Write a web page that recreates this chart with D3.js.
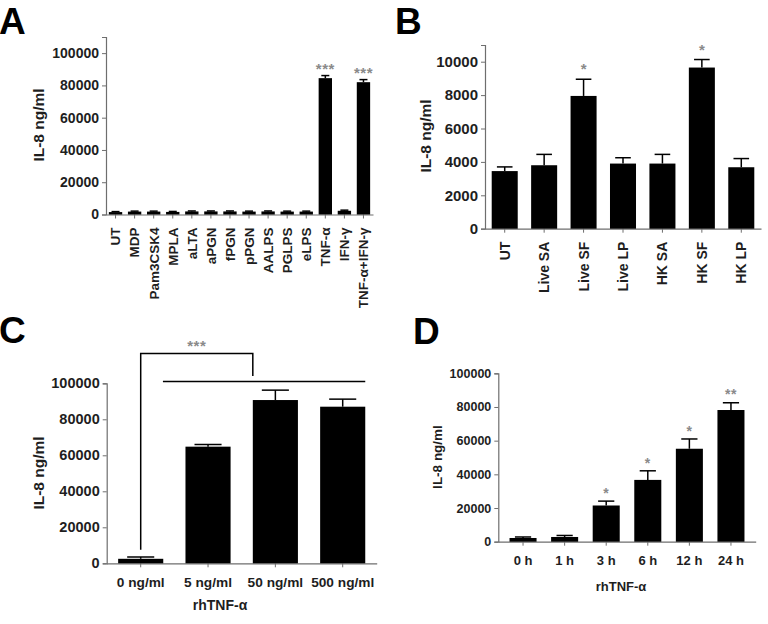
<!DOCTYPE html>
<html><head><meta charset="utf-8">
<script src="https://cdn.jsdelivr.net/npm/d3@7"></script>
<style>body{margin:0;background:#fff}svg{display:block}text{font-family:"Liberation Sans",Arial,sans-serif}</style>
</head><body><svg id="c" width="768" height="624"></svg>
<script>
// Panel A
const catsA = ["UT","MDP","Pam3CSK4","MPLA","aLTA","aPGN","fPGN","pPGN","AALPS","PGLPS","eLPS","TNF-α","IFN-γ","TNF-α+IFN-γ"];
const valsA = [1500,1800,1800,1600,1900,1900,1900,1800,1900,1800,1800,84500,2300,82000];
const errA  = [300,300,300,300,300,300,300,300,300,300,300,1600,400,1600];
const starsA = ["","","","","","","","","","","","***","","***"];
const ticksA = [0,20000,40000,60000,80000,100000];
// Panel B
const catsB = ["UT","Live SA","Live SF","Live LP","HK SA","HK SF","HK LP"];
const valsB = [3450,3800,7950,3900,3900,9650,3680];
const errB  = [250,650,1000,350,550,480,520];
const starsB = ["","","*","","","*",""];
const ticksB = [0,2000,4000,6000,8000,10000];
// Panel C
const catsC = ["0 ng/ml","5 ng/ml","50 ng/ml","500 ng/ml"];
const valsC = [2500,64800,90700,87000];
const errC  = [1000,1200,5500,4200];
const ticksC = [0,20000,40000,60000,80000,100000];
// Panel D
const catsD = ["0 h","1 h","3 h","6 h","12 h","24 h"];
const valsD = [2200,2800,21500,36700,55200,78200];
const errD  = [600,900,2600,5400,5800,4300];
const starsD = ["","","*","*","*","**"];
const ticksD = [0,20000,40000,60000,80000,100000];

const svg = d3.select("#c");
const AX = "#6e6e6e";
const TXT = "#1e1e1e";

function panel(o){
  const g = svg.append("g");
  const x = d3.scaleBand().domain(o.cats).range([o.x0,o.x1]).paddingInner(o.pi).paddingOuter(o.po);
  const y = d3.scaleLinear().domain([0,o.ymax]).range([o.yb,o.yt]);
  const ya = d3.axisLeft(y).tickValues(o.ticks).tickSize(4).tickPadding(3).tickFormat(d3.format("d"));
  const gy = g.append("g").attr("transform",`translate(${o.x0},0)`).call(ya);
  gy.select(".domain").attr("stroke",AX).attr("stroke-width",1.2);
  gy.selectAll(".tick line").attr("stroke",AX);
  gy.selectAll(".tick text").attr("fill",TXT).attr("font-weight","bold").attr("font-size",o.tfs).style("font-family","Liberation Sans, Arial");
  const xa = d3.axisBottom(x).tickSize(4).tickSizeOuter(0);
  const gx = g.append("g").attr("transform",`translate(0,${o.yb})`).call(xa);
  gx.select(".domain").attr("stroke",AX).attr("stroke-width",1.2);
  gx.selectAll(".tick line").attr("stroke",AX);
  if(o.rot){
    gx.selectAll(".tick text").remove();
    g.selectAll("text.xl").data(o.cats).join("text").attr("class","xl")
      .attr("transform",d=>`translate(${x(d)+x.bandwidth()/2+o.xfs*0.36},${o.yb+13}) rotate(-90)`)
      .attr("text-anchor","end").attr("font-size",o.xfs).attr("font-weight","bold").attr("fill",TXT)
      .text(d=>d);
  } else {
    gx.selectAll(".tick text").attr("fill",TXT).attr("font-weight","bold").attr("font-size",o.xfs).attr("dy",o.xdy).style("font-family","Liberation Sans, Arial");
  }
  const cx = d=>x(d)+x.bandwidth()/2;
  g.selectAll("line.e").data(o.cats).join("line").attr("class","e")
    .attr("x1",cx).attr("x2",cx).attr("y1",(d,i)=>y(o.vals[i])).attr("y2",(d,i)=>y(o.vals[i]+o.errs[i]))
    .attr("stroke","#000").attr("stroke-width",1.5);
  g.selectAll("line.c").data(o.cats).join("line").attr("class","c")
    .attr("x1",d=>cx(d)-x.bandwidth()*0.3).attr("x2",d=>cx(d)+x.bandwidth()*0.3)
    .attr("y1",(d,i)=>y(o.vals[i]+o.errs[i])).attr("y2",(d,i)=>y(o.vals[i]+o.errs[i]))
    .attr("stroke","#000").attr("stroke-width",1.5);
  g.selectAll("rect.b").data(o.cats).join("rect").attr("class","b")
    .attr("x",d=>x(d)).attr("width",x.bandwidth())
    .attr("y",(d,i)=>y(o.vals[i])).attr("height",(d,i)=>o.yb-y(o.vals[i]))
    .attr("fill","#000");
  if(o.stars){
    g.selectAll("text.s").data(o.cats).join("text").attr("class","s")
      .attr("x",cx).attr("y",(d,i)=>y(o.vals[i]+o.errs[i])-o.sgap+o.sfs*0.55)
      .attr("text-anchor","middle").attr("font-size",o.sfs).attr("fill","#8a8a8a").attr("font-weight","bold")
      .attr("letter-spacing",o.sls||0)
      .text((d,i)=>o.stars[i]);
  }
  g.append("text").attr("transform",`translate(${o.ylx},${o.yly}) rotate(-90)`)
    .attr("text-anchor","middle").attr("font-size",o.yfs).attr("font-weight","bold").attr("fill",TXT).text("IL-8 ng/ml");
  if(o.xlabel){
    g.append("text").attr("x",o.xlx).attr("y",o.xly).attr("text-anchor","middle")
      .attr("font-size",o.xlfs).attr("font-weight","bold").attr("fill",TXT).text(o.xlabel);
  }
  g.append("text").attr("x",o.lx).attr("y",o.ly).attr("font-size",37).attr("font-weight","bold").attr("fill","#000").text(o.letter);
  return {x,y,g};
}

panel({cats:catsA,vals:valsA,errs:errA,stars:starsA,ticks:ticksA,ymax:110000,
  x0:106,x1:373,yb:214.5,yt:37,pi:0.3,po:0.15,tfs:14,xfs:13.5,rot:true,sfs:15,sgap:10,sls:0.5,
  ylx:43.5,yly:125,yfs:15.5,lx:-1,ly:34,letter:"A"});

panel({cats:catsB,vals:valsB,errs:errB,stars:starsB,ticks:ticksB,ymax:11000,
  x0:485,x1:761,yb:228.7,yt:45,pi:0.34,po:0.17,tfs:15,xfs:14,rot:true,sfs:15,sgap:13,
  ylx:431,yly:136,yfs:15.5,lx:395,ly:34,letter:"B"});

const C = panel({cats:catsC,vals:valsC,errs:errC,ticks:ticksC,ymax:100000,
  x0:106.7,x1:376.7,yb:563.3,yt:383.3,pi:0.33,po:0.17,tfs:14.5,xfs:13.7,xdy:"1.25em",
  ylx:43.5,yly:473,yfs:15.5,xlabel:"rhTNF-α",xlx:220,xly:610,xlfs:14,lx:-1,ly:343,letter:"C"});
const bx0 = C.x(catsC[0])+C.x.bandwidth()/2, bx1 = C.x(catsC[2]);
const gB = C.g.append("g").attr("fill","none").attr("stroke","#000").attr("stroke-width",1.5);
gB.append("path").attr("d",`M${bx0},${C.y(7500)}V${C.y(116500)}H${bx1}V${C.y(104000)}`);
gB.append("line").attr("x1",C.x(catsC[1])-C.x.bandwidth()*0.5).attr("x2",C.x(catsC[3])+C.x.bandwidth())
  .attr("y1",C.y(101000)).attr("y2",C.y(101000));
C.g.append("text").attr("x",(bx0+bx1)/2).attr("y",C.y(122500)+8).attr("text-anchor","middle")
  .attr("font-size",15).attr("font-weight","bold").attr("fill","#8a8a8a").attr("letter-spacing",0.5).text("***");

panel({cats:catsD,vals:valsD,errs:errD,stars:starsD,ticks:ticksD,ymax:100000,
  x0:498.3,x1:755.7,yb:541.7,yt:373.3,pi:0.35,po:0.27,tfs:12.5,xfs:13,xdy:"1.25em",sfs:14,sgap:11,sls:0.5,
  ylx:442,yly:457,yfs:13.5,xlabel:"rhTNF-α",xlx:621,xly:591,xlfs:13,lx:413,ly:344,letter:"D"});
</script></body></html>
